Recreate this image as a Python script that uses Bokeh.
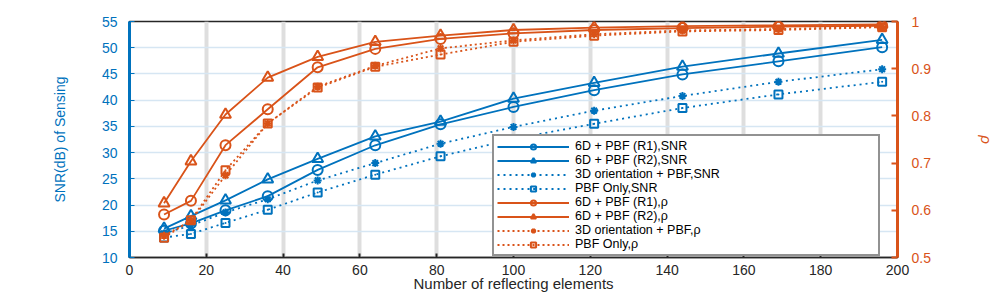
from bokeh.plotting import figure
from bokeh.models import (LinearAxis, Range1d, FixedTicker, Legend, LegendItem)
from bokeh.embed import file_html
from bokeh.resources import INLINE

# ---------------- data ----------------
N_ELEMENTS = [9, 16, 25, 36, 49, 64, 81, 100, 121, 144, 169, 196]

SNR_6D_R1 = [15.1, 16.5, 19.0, 21.7, 26.7, 31.4, 35.4, 38.7, 41.9, 44.9, 47.4, 50.1]
SNR_6D_R2 = [15.5, 17.9, 20.9, 24.9, 28.8, 33.1, 35.9, 40.3, 43.3, 46.4, 48.9, 51.5]
SNR_3D = [14.6, 16.1, 18.6, 21.1, 24.7, 28.0, 31.7, 34.9, 38.0, 40.8, 43.5, 45.9]
SNR_PBF = [13.8, 14.5, 16.6, 19.1, 22.4, 25.8, 29.3, 32.6, 35.5, 38.5, 41.1, 43.5]

RHO_6D_R1 = [0.591, 0.620, 0.738, 0.814, 0.903, 0.942, 0.963, 0.975, 0.982, 0.986, 0.989, 0.991]
RHO_6D_R2 = [0.615, 0.704, 0.803, 0.881, 0.925, 0.957, 0.970, 0.982, 0.987, 0.990, 0.992, 0.994]
RHO_3D = [0.546, 0.578, 0.674, 0.784, 0.862, 0.906, 0.943, 0.960, 0.973, 0.981, 0.984, 0.989]
RHO_PBF = [0.542, 0.579, 0.685, 0.784, 0.860, 0.904, 0.930, 0.957, 0.970, 0.979, 0.982, 0.988]

X_TICKS = [0, 20, 40, 60, 80, 100, 120, 140, 160, 180, 200]
SNR_TICKS = [10, 15, 20, 25, 30, 35, 40, 45, 50, 55]
RHO_TICKS = [0.5, 0.6, 0.7, 0.8, 0.9, 1.0]
RHO_TICK_LABELS = ["0.5", "0.6", "0.7", "0.8", "0.9", "1"]

LABELS = ["6D + PBF (R1),SNR", "6D + PBF (R2),SNR", "3D orientation + PBF,SNR",
          "PBF Only,SNR", "6D + PBF (R1),\u03c1", "6D + PBF (R2),\u03c1",
          "3D orientation + PBF,\u03c1", "PBF Only,\u03c1"]

# ---------------- style ----------------
BLUE = "#0072BD"
ORANGE = "#D95319"
DARK = "#262626"
FONT = "Liberation Sans"

p = figure(width=997, height=294, output_backend="svg", toolbar_location=None,
           x_range=Range1d(0, 200), y_range=Range1d(10, 55))
p.extra_y_ranges = {"rho": Range1d(0.5, 1.0)}
p.min_border_left = 129
p.min_border_right = 100
p.min_border_top = 21
p.min_border_bottom = 37
p.outline_line_color = DARK
p.outline_line_width = 1.5
p.background_fill_color = "white"
p.border_fill_color = "white"

# grids
p.xgrid.ticker = FixedTicker(ticks=X_TICKS)
p.xgrid.grid_line_color = "#dedede"
p.xgrid.grid_line_width = 4
p.ygrid.ticker = FixedTicker(ticks=SNR_TICKS)
p.ygrid.grid_line_color = "#d6e6f3"
p.ygrid.grid_line_width = 1.5

# x axis
xa = p.xaxis[0]
xa.ticker = FixedTicker(ticks=X_TICKS)
xa.axis_label = "Number of reflecting elements"
xa.axis_label_text_font = FONT
xa.axis_label_text_font_size = "15px"
xa.axis_label_text_font_style = "normal"
xa.axis_label_text_color = DARK
xa.axis_label_standoff = -3
xa.major_label_text_font = FONT
xa.major_label_text_font_size = "14px"
xa.major_label_text_color = DARK
xa.major_label_standoff = 7
xa.axis_line_color = DARK
xa.axis_line_width = 1.5
xa.major_tick_line_color = DARK
xa.major_tick_line_width = 2
xa.major_tick_in = 4
xa.major_tick_out = 0
xa.minor_tick_line_color = None

# left axis
ya = p.yaxis[0]
ya.ticker = FixedTicker(ticks=SNR_TICKS)
ya.axis_label = "SNR(dB) of Sensing"
ya.axis_label_text_font = FONT
ya.axis_label_text_font_size = "14px"
ya.axis_label_text_font_style = "normal"
ya.axis_label_text_color = BLUE
ya.axis_label_standoff = 31
ya.major_label_text_font = FONT
ya.major_label_text_font_size = "14px"
ya.major_label_text_color = BLUE
ya.major_label_standoff = 12
ya.axis_line_color = BLUE
ya.axis_line_width = 3
ya.major_tick_line_color = BLUE
ya.major_tick_in = 5
ya.major_tick_out = 0
ya.minor_tick_line_color = None

# right axis
ra = LinearAxis(y_range_name="rho", ticker=FixedTicker(ticks=RHO_TICKS),
                major_label_overrides=dict(zip(RHO_TICKS, RHO_TICK_LABELS)))
ra.axis_label = "\u03c1"
ra.axis_label_text_font = FONT
ra.axis_label_text_font_size = "15px"
ra.axis_label_text_font_style = "italic"
ra.axis_label_text_color = ORANGE
ra.axis_label_standoff = 44
ra.major_label_text_font = FONT
ra.major_label_text_font_size = "14px"
ra.major_label_text_color = ORANGE
ra.major_label_standoff = 14
ra.axis_line_color = ORANGE
ra.axis_line_width = 3
ra.major_tick_line_color = ORANGE
ra.major_tick_line_width = 2
ra.major_tick_in = 6
ra.major_tick_out = 0
ra.minor_tick_line_color = None
p.add_layout(ra, "right")

# ---------------- series ----------------
series = [
    (SNR_6D_R1, "default", BLUE, "circle", 10, "solid"),
    (SNR_6D_R2, "default", BLUE, "triangle", 11, "solid"),
    (SNR_3D, "default", BLUE, "asterisk", 8, "2 4"),
    (SNR_PBF, "default", BLUE, "square_dot", 8, "2 4"),
    (RHO_6D_R1, "rho", ORANGE, "circle", 10, "solid"),
    (RHO_6D_R2, "rho", ORANGE, "triangle", 11, "solid"),
    (RHO_3D, "rho", ORANGE, "asterisk", 8, "2 3"),
    (RHO_PBF, "rho", ORANGE, "square_dot", 8, "2 3"),
]

items = []
for (ys, rng, col, mk, sz, dash), lab in zip(series, LABELS):
    r1 = p.line(N_ELEMENTS, ys, y_range_name=rng, line_color=col, line_width=1.8,
                line_dash=dash)
    r2 = p.scatter(N_ELEMENTS, ys, y_range_name=rng, marker=mk, size=sz,
                   line_color=col, line_width=2, fill_color=None)
    items.append(LegendItem(label=lab, renderers=[r1, r2]))

legend = Legend(items=items, location=(363, 1))
legend.label_text_font = FONT
legend.label_text_font_size = "12.5px"
legend.label_text_color = "black"
legend.label_text_line_height = 1.0
legend.label_height = 13
legend.glyph_height = 13
legend.glyph_width = 72
legend.label_standoff = 6
legend.label_width = 300
legend.spacing = 0
legend.padding = 3
legend.margin = 0
legend.border_line_color = DARK
legend.border_line_width = 2
legend.background_fill_color = "white"
legend.background_fill_alpha = 1
p.add_layout(legend, "center")

open("out.html", "w").write(file_html(p, INLINE))
